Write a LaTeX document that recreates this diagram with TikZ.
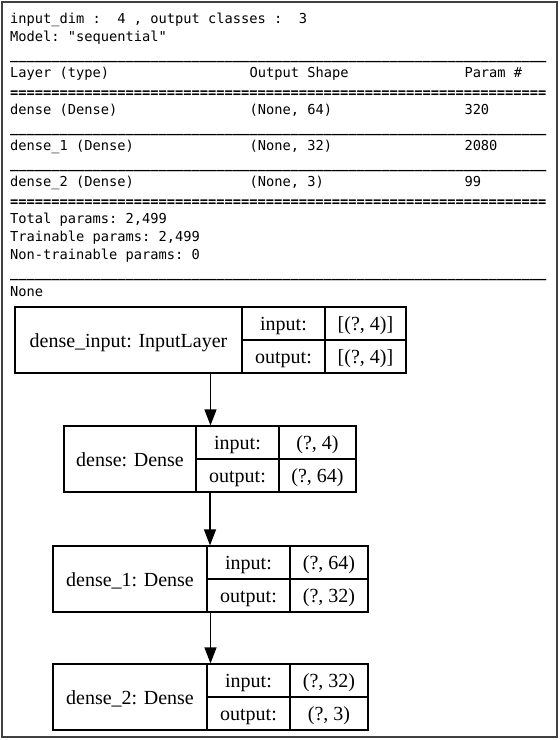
\documentclass[tikz,border=0pt]{standalone}
\usepackage{fontspec}
\setmainfont{Liberation Serif}
\setmonofont{DejaVu Sans Mono}
\usetikzlibrary{arrows.meta}
\ExplSyntaxOn
\NewDocumentCommand\myrep{mm}{\prg_replicate:nn{#1}{#2}}
\ExplSyntaxOff
\newcommand\layerbox[9]{%
  \node[layer,minimum width={#3-#2}] (#1) at ({(#2+#3)/2},{#4+33}) {};
  \draw[cellline] (#5,#4) -- (#5,{#4+66});
  \draw[cellline] (#6,#4) -- (#6,{#4+66});
  \draw[cellline] (#5,{#4+33}) -- (#3,{#4+33});
  \node[cell] (#1-name) at ({(#2+#5)/2},{#4+40}) {#7};
  \node[cell] (#1-inl) at ({(#5+#6)/2},{#4+23.5}) {input:};
  \node[cell] (#1-in) at ({(#6+#3)/2},{#4+23.5}) {#8};
  \node[cell] (#1-outl) at ({(#5+#6)/2},{#4+56.5}) {output:};
  \node[cell] (#1-out) at ({(#6+#3)/2},{#4+56.5}) {#9};
}
\begin{document}
\begin{tikzpicture}[x=1pt,y=-1pt,
  mono/.style={anchor=base west,inner sep=0pt,font=\ttfamily\frenchspacing\fontsize{13.7}{16}\selectfont},
  rulerow/.style={mono,font=\ttfamily\bfseries\frenchspacing\fontsize{13.7}{16}\selectfont},
  cell/.style={anchor=base,inner sep=0pt,font=\fontsize{20}{24}\selectfont},
  layer/.style={draw,line width=1.2pt,inner sep=0pt,minimum height=66pt},
  cellline/.style={line width=1.2pt},
  flow/.style={line width=1.2pt,-{Triangle[length=16pt,width=12pt]}}]
\useasboundingbox (0,0) rectangle (560,740);
\fill[white] (0,0) rectangle (560,740);
\draw[line width=1.5pt,black!75] (2,2) rectangle (557,737);
% summary text
\node[mono] (t0) at (10,23) {input\_dim :~~4 , output classes :~~3};
\node[mono] (t1) at (10,41.2) {Model: "sequential"};
\node[rulerow] (t2) at (10,59.4) {\myrep{65}{\_}};
\node[mono] (t3a) at (10,77.6) {Layer (type)};
\node[mono] (t3b) at (249.5,77.6) {Output Shape};
\node[mono] (t3c) at (464.3,77.6) {Param \#};
\node[rulerow] (t4) at (10,97.5) {\myrep{65}{=}};
\node[mono] (t5a) at (10,114) {dense (Dense)};
\node[mono] (t5b) at (249.5,114) {(None, 64)};
\node[mono] (t5c) at (464.3,114) {320};
\node[rulerow] (t6) at (10,132.2) {\myrep{65}{\_}};
\node[mono] (t7a) at (10,150.4) {dense\_1 (Dense)};
\node[mono] (t7b) at (249.5,150.4) {(None, 32)};
\node[mono] (t7c) at (464.3,150.4) {2080};
\node[rulerow] (t8) at (10,168.6) {\myrep{65}{\_}};
\node[mono] (t9a) at (10,186.8) {dense\_2 (Dense)};
\node[mono] (t9b) at (249.5,186.8) {(None, 3)};
\node[mono] (t9c) at (464.3,186.8) {99};
\node[rulerow] (t10) at (10,206.5) {\myrep{65}{=}};
\node[mono] (t11) at (10,223.2) {Total params: 2,499};
\node[mono] (t12) at (10,241.4) {Trainable params: 2,499};
\node[mono] (t13) at (10,259.6) {Non-trainable params: 0};
\node[rulerow] (t14) at (10,277.8) {\myrep{65}{\_}};
\node[mono] (t15) at (10,296) {None};
% model graph
\layerbox{b1}{15}{406}{307}{242}{325}{dense\_input: InputLayer}{[(?, 4)]}{[(?, 4)]}
\layerbox{b2}{64}{356}{426}{196}{279}{dense: Dense}{(?, 4)}{(?, 64)}
\layerbox{b3}{53}{368}{546}{207}{290}{dense\_1: Dense}{(?, 64)}{(?, 32)}
\layerbox{b4}{53}{368}{664}{207}{290}{dense\_2: Dense}{(?, 32)}{(?, 3)}
\draw[flow] (b1.south) -- (b1.south |- b2.north);
\draw[flow] (b2.south) -- (b2.south |- b3.north);
\draw[flow] (b3.south) -- (b3.south |- b4.north);
\end{tikzpicture}
\end{document}
